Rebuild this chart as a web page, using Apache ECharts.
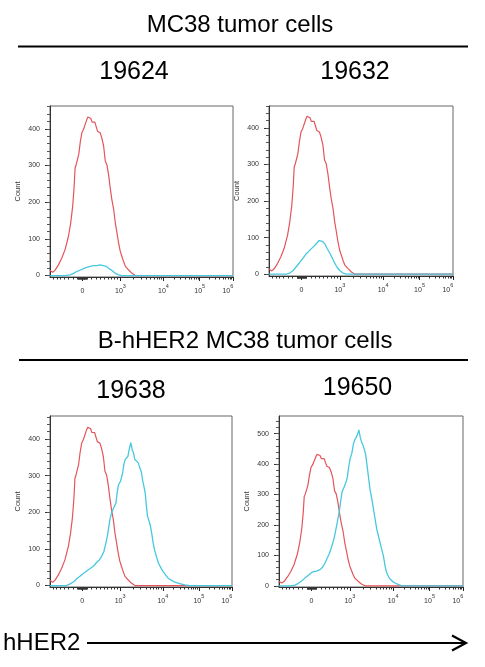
<!DOCTYPE html>
<html><head><meta charset="utf-8">
<script src="https://cdn.jsdelivr.net/npm/echarts@6/dist/echarts.min.js"></script>
<style>html,body{margin:0;padding:0;background:#fff}#c{width:485px;height:667px}</style>
</head><body><div id="c"></div>
<script>
// X values are positions on the biexponential display scale (channel units 0–1000), Y values are counts.
const controlX = [0, 15, 27, 46, 64, 82, 101, 113, 124, 132, 137, 143, 150, 157, 165, 174, 183, 192, 201, 207, 216, 223, 230, 238, 245, 252, 260, 267, 274, 283, 293, 302, 311, 320, 329, 338, 348, 357, 366, 375, 384, 393, 402, 412, 430, 448, 467, 485, 1000];
const controlY = [14, 9, 14, 29, 47, 70, 107, 143, 189, 243, 293, 302, 305, 330, 362, 389, 398, 403, 425, 432, 428, 428, 418, 414, 418, 421, 393, 398, 389, 375, 353, 312, 302, 275, 239, 207, 180, 143, 116, 88, 66, 52, 38, 25, 15, 6, 0, 0, 0];

const s19624X = [0, 82, 110, 128, 146, 165, 183, 201, 220, 238, 256, 274, 283, 307, 320, 338, 357, 375, 393, 1000];
const s19624Y = [0, 0, 2, 6, 11, 15, 19, 22, 25, 27, 27, 29, 28, 25, 20, 14, 6, 2, 0, 0];

const s19632X = [0, 94, 113, 131, 149, 167, 185, 203, 221, 239, 257, 272, 279, 290, 303, 315, 330, 344, 357, 370, 384, 402, 421, 1000];
const s19632Y = [0, 0, 3, 10, 21, 32, 44, 56, 65, 74, 83, 92, 94, 90, 83, 71, 58, 44, 30, 19, 10, 3, 0, 0];

const s19638X = [0, 91, 113, 132, 150, 168, 187, 205, 223, 241, 256, 271, 283, 296, 307, 315, 322, 329, 338, 347, 353, 362, 369, 377, 388, 399, 406, 413, 421, 428, 435, 444, 452, 459, 466, 476, 485, 494, 503, 508, 516, 523, 530, 536, 545, 552, 560, 567, 574, 585, 596, 611, 622, 635, 649, 668, 686, 713, 741, 768, 1000];
const s19638Y = [0, 0, 5, 11, 20, 27, 34, 41, 47, 54, 63, 70, 79, 93, 116, 134, 157, 180, 198, 209, 214, 225, 253, 276, 285, 308, 331, 344, 344, 353, 371, 390, 371, 362, 344, 344, 335, 321, 308, 289, 271, 253, 216, 189, 175, 162, 139, 116, 98, 79, 61, 47, 38, 29, 20, 14, 9, 5, 2, 0, 0];

const s19650X = [0, 60, 87, 105, 123, 142, 160, 178, 191, 205, 223, 238, 250, 263, 274, 287, 299, 310, 319, 329, 336, 343, 354, 365, 372, 379, 387, 396, 405, 412, 419, 426, 434, 441, 448, 456, 463, 470, 477, 486, 495, 505, 514, 523, 532, 541, 550, 559, 568, 577, 586, 601, 619, 641, 668, 1000];
const s19650Y = [0, 0, 2, 8, 16, 26, 35, 44, 47, 48, 53, 62, 75, 92, 106, 130, 155, 188, 216, 249, 282, 309, 325, 342, 359, 392, 419, 436, 468, 479, 482, 496, 512, 490, 474, 463, 463, 435, 403, 359, 315, 283, 250, 217, 184, 162, 140, 118, 96, 63, 41, 24, 13, 6, 0, 0];

// axis ticks / labels
const xMajorTickPos = [177, 385, 620, 818, 1000];
const xLabelPos = [177, 385, 620, 818, 972];
const xLabelExp = ['', '3', '4', '5', '6'];
const yTicks = [0, 100, 200, 300, 400];
const yTicks4 = [0, 100, 200, 300, 400, 500];
const sampleNames = ['19624', '19632', '19638', '19650'];
const groupTitles = ['MC38 tumor cells', 'B-hHER2 MC38 tumor cells'];
const xAxisTitle = 'hHER2';

const FONT = '"Liberation Sans", Arial, sans-serif';
const RED = '#e4545a';
const CYAN = '#46c8df';

function pair(xs, ys) { return xs.map((x, i) => [x, ys[i]]); }

// minor ticks of the biexponential display
function linPos(v) { return 177 + 208 * Math.asinh(v / 700) / Math.asinh(1000 / 700); }
const xMinorTicks = [];
for (let v = -700; v <= -200; v += 100) xMinorTicks.push(linPos(v));
for (let v = -100; v <= 100; v += 10) xMinorTicks.push(linPos(v));
for (let v = 200; v <= 900; v += 100) xMinorTicks.push(linPos(v));
for (let d = 0; d < 3; d++) {
  const a = xMajorTickPos[d + 1], b = xMajorTickPos[d + 2];
  for (let k = 2; k <= 9; k++) xMinorTicks.push(a + (b - a) * Math.log10(k));
}
const xMinor = xMinorTicks.filter(p => p >= 0 && p <= 1000);

const panels = [
  { grid: { left: 50, top: 106, width: 183, height: 171 }, yMin: -4, yMax: 462, ticks: yTicks, x: s19624X, y: s19624Y },
  { grid: { left: 269, top: 106, width: 184, height: 170 }, yMin: -5, yMax: 460, ticks: yTicks, x: s19632X, y: s19632Y },
  { grid: { left: 50, top: 416, width: 182, height: 171 }, yMin: -4, yMax: 463, ticks: yTicks, x: s19638X, y: s19638Y },
  { grid: { left: 279, top: 416, width: 184, height: 171 }, yMin: -4, yMax: 558, ticks: yTicks4, x: s19650X, y: s19650Y }
];

const grid = [], xAxis = [], yAxis = [], series = [];
panels.forEach((p, i) => {
  grid.push(Object.assign({ show: true, borderColor: '#666', borderWidth: 1, backgroundColor: 'transparent' }, p.grid));
  xAxis.push({
    type: 'value', gridIndex: i, min: 0, max: 1000, position: 'bottom',
    axisLine: { show: true, onZero: false, lineStyle: { color: '#333', width: 1 } },
    axisTick: { show: true, customValues: xMajorTickPos, length: 4, lineStyle: { color: '#222' } },
    axisLabel: {
      show: true, customValues: xLabelPos, margin: 6, color: '#333',
      formatter: function (val) {
        let idx = 0, best = 1e9;
        xLabelPos.forEach((q, j) => { if (Math.abs(q - val) < best) { best = Math.abs(q - val); idx = j; } });
        return idx === 0 ? '{b|0}' : '{b|10}{s|' + xLabelExp[idx] + '}';
      },
      rich: {
        b: { fontSize: 7, fontFamily: FONT, color: '#333', lineHeight: 12, verticalAlign: 'bottom' },
        s: { fontSize: 5.5, fontFamily: FONT, color: '#333', lineHeight: 6, verticalAlign: 'top' }
      }
    },
    splitLine: { show: false }
  });
  xAxis.push({
    type: 'value', gridIndex: i, min: 0, max: 1000, position: 'bottom',
    axisLine: { show: false, onZero: false },
    axisTick: { show: true, customValues: xMinor, length: 2.5, lineStyle: { color: '#333' } },
    axisLabel: { show: false }, splitLine: { show: false }
  });
  const minorY = [];
  for (let v = 0; v <= p.yMax; v += 20) minorY.push(v);
  yAxis.push({
    type: 'value', gridIndex: i, min: p.yMin, max: p.yMax, position: 'left',
    name: 'Count', nameLocation: 'middle', nameGap: 28, nameRotate: 90,
    nameTextStyle: { fontSize: 7.5, color: '#333', fontFamily: FONT },
    axisLine: { show: true, onZero: false, lineStyle: { color: '#333', width: 1 } },
    axisTick: { show: true, customValues: p.ticks, length: 5, lineStyle: { color: '#333' } },
    axisLabel: { show: true, customValues: p.ticks, fontSize: 7, color: '#333', margin: 10, fontFamily: FONT },
    splitLine: { show: false }
  });
  yAxis.push({
    type: 'value', gridIndex: i, min: p.yMin, max: p.yMax, position: 'left',
    axisLine: { show: false, onZero: false },
    axisTick: { show: true, customValues: minorY, length: 3, lineStyle: { color: '#555' } },
    axisLabel: { show: false }, splitLine: { show: false }
  });
  series.push({
    type: 'line', xAxisIndex: 2 * i, yAxisIndex: 2 * i, data: pair(controlX, controlY),
    symbol: 'none', lineStyle: { color: RED, width: 1.2 }, itemStyle: { color: RED }, silent: true
  });
  series.push({
    type: 'line', xAxisIndex: 2 * i, yAxisIndex: 2 * i, data: pair(p.x, p.y),
    symbol: 'none', lineStyle: { color: CYAN, width: 1.3 }, itemStyle: { color: CYAN }, silent: true
  });
});

function txt(t, x, y, size) {
  return { type: 'text', x: x, y: y, silent: true,
    style: { text: t, fill: '#000', fontSize: size, fontFamily: FONT, align: 'center', verticalAlign: 'middle' } };
}
function hline(x1, x2, y) {
  return { type: 'line', silent: true, shape: { x1: x1, y1: y, x2: x2, y2: y }, style: { stroke: '#000', lineWidth: 2 } };
}

const graphic = [
  txt(groupTitles[0], 240, 25, 24),
  hline(18, 468, 46.5),
  txt(sampleNames[0], 134, 72, 25),
  txt(sampleNames[1], 355, 72, 25),
  txt(groupTitles[1], 245, 341.5, 24),
  hline(19, 468, 360),
  txt(sampleNames[2], 131, 391.5, 25),
  txt(sampleNames[3], 357.5, 388.5, 25),
  { type: 'text', x: 3, y: 643, silent: true,
    style: { text: xAxisTitle, fill: '#000', fontSize: 24, fontFamily: FONT, align: 'left', verticalAlign: 'middle' } },
  hline(87, 465, 643),
  { type: 'polyline', silent: true, shape: { points: [[452, 635.5], [466, 643], [452, 650.5]] },
    style: { stroke: '#000', lineWidth: 2.2, fill: null } }
];

const chart = echarts.init(document.getElementById('c'), null, { renderer: 'canvas' });
chart.setOption({ animation: false, grid, xAxis, yAxis, series, graphic });
</script></body></html>
